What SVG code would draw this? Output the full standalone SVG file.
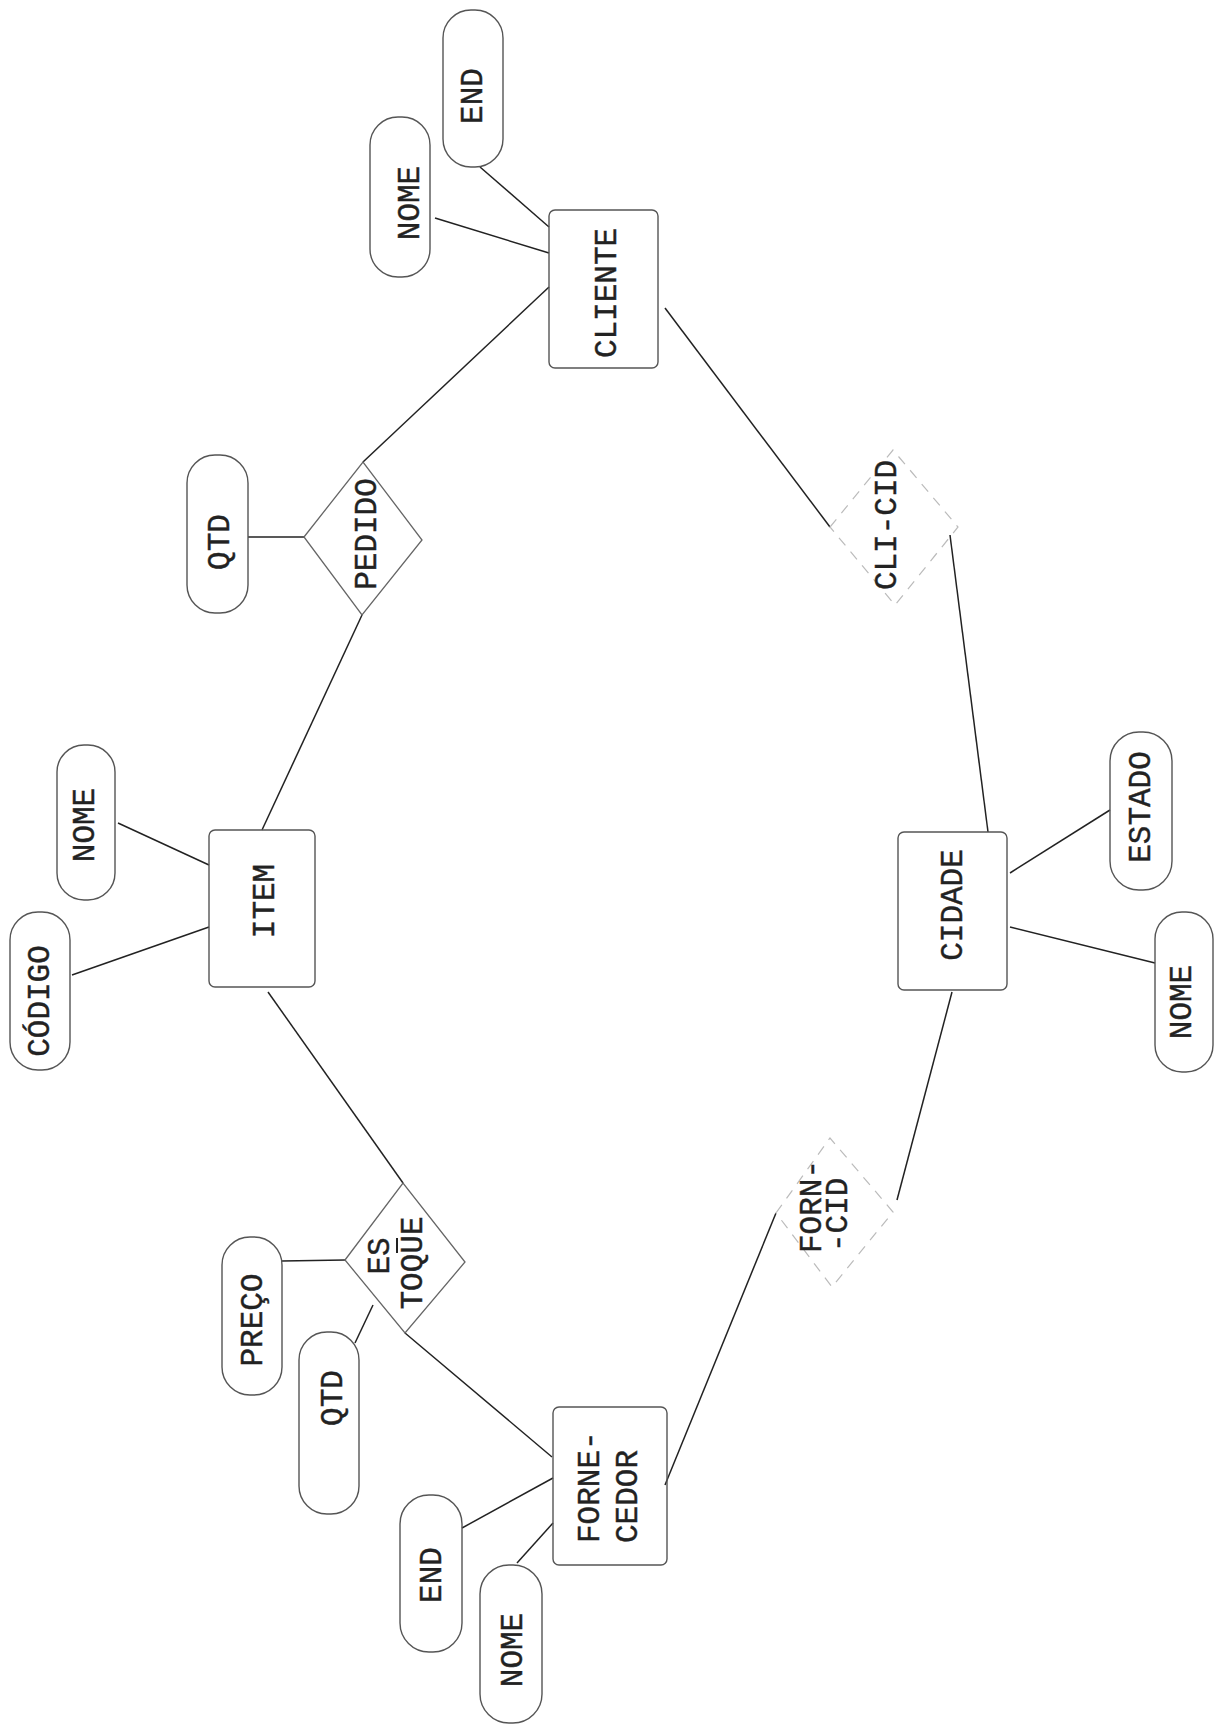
<svg xmlns="http://www.w3.org/2000/svg" width="1218" height="1727" viewBox="0 0 1218 1727">
<style>
.bg{fill:#fff}
.ent{fill:none;stroke:#555;stroke-width:1.4}
.att{fill:none;stroke:#555;stroke-width:1.4}
.rel{fill:none;stroke:#666;stroke-width:1.3}
.faint{fill:none;stroke:#bbb;stroke-width:1.2;stroke-dasharray:10 8}
.t{font-family:"Liberation Mono","DejaVu Sans Mono",monospace;font-size:31px;fill:#222;stroke:#222;stroke-width:0.4}
.c{text-anchor:middle;dominant-baseline:central}
.s{text-anchor:start;dominant-baseline:central}
#connectors line{stroke:#222;stroke-width:1.5}
</style>
<rect class="bg" x="0" y="0" width="1218" height="1727"/>

<g id="connectors">
<line x1="480" y1="167" x2="549" y2="227"/>
<line x1="435" y1="218" x2="549" y2="253"/>
<line x1="549" y1="287" x2="363" y2="462"/>
<line x1="248" y1="537" x2="304" y2="537"/>
<line x1="362" y1="615" x2="262" y2="830"/>
<line x1="118" y1="823" x2="209" y2="865"/>
<line x1="72" y1="975" x2="209" y2="927"/>
<line x1="268" y1="992" x2="403" y2="1183"/>
<line x1="282" y1="1261" x2="345" y2="1260"/>
<line x1="355" y1="1343" x2="373" y2="1305"/>
<line x1="405" y1="1333" x2="552" y2="1457"/>
<line x1="462" y1="1528" x2="553" y2="1478"/>
<line x1="517" y1="1563" x2="553" y2="1523"/>
<line x1="665" y1="1485" x2="776" y2="1213"/>
<line x1="665" y1="308" x2="830" y2="527"/>
<line x1="950" y1="535" x2="988" y2="832"/>
<line x1="952" y1="992" x2="897" y2="1200"/>
<line x1="1010" y1="873" x2="1110" y2="810"/>
<line x1="1010" y1="927" x2="1155" y2="963"/>
</g>

<g id="cliente">
<rect class="ent" x="549" y="210" width="109" height="158" rx="6"/>
<text class="t c" transform="translate(607,293) rotate(-90)">CLIENTE</text>
</g>
<g id="cliente-end">
<rect class="att" x="443" y="10" width="60" height="157" rx="28"/>
<text class="t c" transform="translate(473,96) rotate(-90)">END</text>
</g>
<g id="cliente-nome">
<rect class="att" x="370" y="117" width="60" height="160" rx="28"/>
<text class="t c" transform="translate(410,203) rotate(-90)">NOME</text>
</g>

<g id="pedido">
<polygon class="rel" points="304,537 363,462 422,540 362,615"/>
<text class="t c" transform="translate(367,534) rotate(-90)">PEDIDO</text>
</g>
<g id="pedido-qtd">
<rect class="att" x="187" y="455" width="61" height="158" rx="28"/>
<text class="t c" transform="translate(220,542) rotate(-90)">QTD</text>
</g>

<g id="item">
<rect class="ent" x="209" y="830" width="106" height="157" rx="6"/>
<text class="t c" transform="translate(265,901) rotate(-90)">ITEM</text>
</g>
<g id="item-nome">
<rect class="att" x="57" y="745" width="58" height="155" rx="27"/>
<text class="t c" transform="translate(85,825) rotate(-90)">NOME</text>
</g>
<g id="item-codigo">
<rect class="att" x="10" y="912" width="60" height="158" rx="28"/>
<text class="t c" transform="translate(40,1001) rotate(-90)">CÓDIGO</text>
</g>

<g id="estoque">
<polygon class="rel" points="345,1260 403,1183 465,1262 405,1333"/>
<text class="t c" transform="translate(380,1256) rotate(-90)">ES</text>
<line x1="397" y1="1238" x2="397" y2="1253" stroke="#222" stroke-width="2"/>
<text class="t c" transform="translate(413,1263) rotate(-90)">TOQUE</text>
</g>
<g id="estoque-preco">
<rect class="att" x="222" y="1237" width="60" height="158" rx="28"/>
<text class="t c" transform="translate(253,1320) rotate(-90)">PREÇO</text>
</g>
<g id="estoque-qtd">
<rect class="att" x="299" y="1332" width="60" height="182" rx="28"/>
<text class="t c" transform="translate(333,1398) rotate(-90)">QTD</text>
</g>

<g id="fornecedor">
<rect class="ent" x="553" y="1407" width="114" height="158" rx="6"/>
<text class="t s" transform="translate(590,1543) rotate(-90)">FORNE-</text>
<text class="t s" transform="translate(628,1543) rotate(-90)">CEDOR</text>
</g>
<g id="fornecedor-end">
<rect class="att" x="400" y="1495" width="62" height="157" rx="29"/>
<text class="t c" transform="translate(432,1575) rotate(-90)">END</text>
</g>
<g id="fornecedor-nome">
<rect class="att" x="480" y="1565" width="62" height="158" rx="29"/>
<text class="t c" transform="translate(513,1650) rotate(-90)">NOME</text>
</g>

<g id="cli-cid">
<polygon class="faint" points="830,527 893,450 958,527 895,605"/>
<text class="t c" transform="translate(887,525) rotate(-90)">CLI-CID</text>
</g>

<g id="cidade">
<rect class="ent" x="898" y="832" width="109" height="158" rx="6"/>
<text class="t c" transform="translate(953,905) rotate(-90)">CIDADE</text>
</g>
<g id="cidade-estado">
<rect class="att" x="1110" y="732" width="62" height="158" rx="29"/>
<text class="t c" transform="translate(1141,807) rotate(-90)">ESTADO</text>
</g>
<g id="cidade-nome">
<rect class="att" x="1155" y="912" width="58" height="160" rx="27"/>
<text class="t c" transform="translate(1182,1002) rotate(-90)">NOME</text>
</g>

<g id="forn-cid">
<polygon class="faint" points="776,1213 830,1138 893,1212 832,1287"/>
<text class="t s" transform="translate(812,1253) rotate(-90)">FORN-</text>
<text class="t s" transform="translate(838,1252) rotate(-90)">-CID</text>
</g>
</svg>
